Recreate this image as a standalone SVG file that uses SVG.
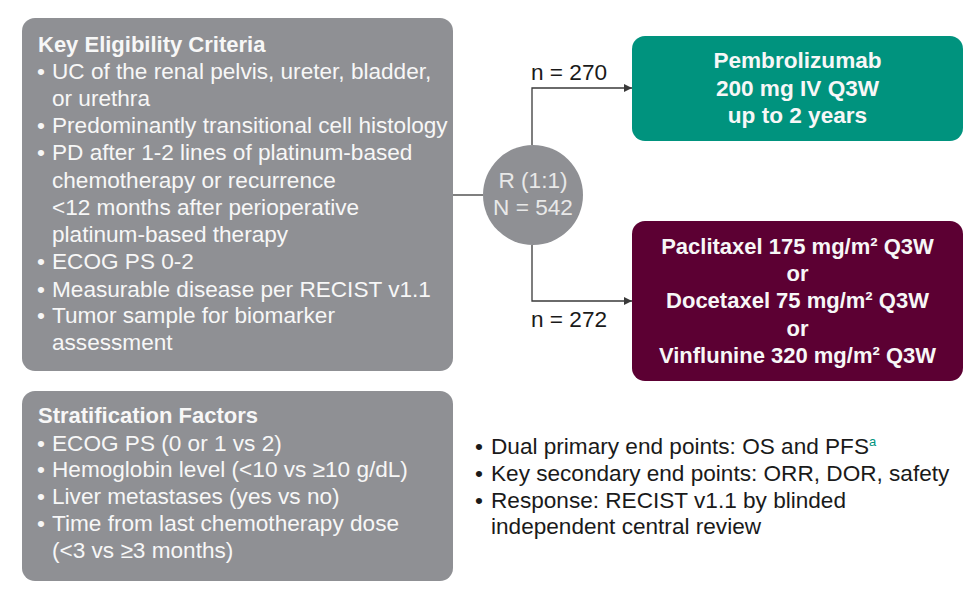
<svg xmlns="http://www.w3.org/2000/svg" width="974" height="597" viewBox="0 0 974 597">
<style>
.t{font-family:"Liberation Sans",Arial,sans-serif;font-size:22.6px}
.w{fill:#f7f7f7}
.b{font-weight:bold;font-size:22px}
.k{fill:#1a1a1a}
.c{text-anchor:middle}
.box{fill:#8f9094}
.ln{fill:none;stroke:#3a3a3a;stroke-width:1.3}
</style>
<defs>
<marker id="ah" viewBox="0 0 10 10" refX="10" refY="5" markerWidth="9" markerHeight="8" markerUnits="userSpaceOnUse" orient="auto">
<path d="M0,0 L10,5 L0,10 z" fill="#3a3a3a"/>
</marker>
</defs>
<rect width="974" height="597" fill="#ffffff"/>
<g id="connectors">
<path class="ln" d="M453,195 H483"/>
<path class="ln" d="M532,145 V88 H632" marker-end="url(#ah)"/>
<path class="ln" d="M532,245 V301 H632" marker-end="url(#ah)"/>
</g>
<g id="eligibility">
<rect class="box" x="22" y="18" width="431" height="353" rx="13"/>
<text class="t w b" x="38" y="52">Key Eligibility Criteria</text>
<text class="t w" x="37" y="79">•</text><text class="t w" x="52" y="79">UC of the renal pelvis, ureter, bladder,</text>
<text class="t w" x="52" y="106">or urethra</text>
<text class="t w" x="37" y="133">•</text><text class="t w" x="52" y="133">Predominantly transitional cell histology</text>
<text class="t w" x="37" y="160">•</text><text class="t w" x="52" y="160">PD after 1-2 lines of platinum-based</text>
<text class="t w" x="52" y="188">chemotherapy or recurrence</text>
<text class="t w" x="52" y="215">&lt;12 months after perioperative</text>
<text class="t w" x="52" y="242">platinum-based therapy</text>
<text class="t w" x="37" y="269">•</text><text class="t w" x="52" y="269">ECOG PS 0-2</text>
<text class="t w" x="37" y="297">•</text><text class="t w" x="52" y="297">Measurable disease per RECIST v1.1</text>
<text class="t w" x="37" y="323">•</text><text class="t w" x="52" y="323">Tumor sample for biomarker</text>
<text class="t w" x="52" y="350">assessment</text>
</g>
<g id="stratification">
<rect class="box" x="22" y="391" width="431" height="190" rx="13"/>
<text class="t w b" x="38" y="423">Stratification Factors</text>
<text class="t w" x="37" y="451">•</text><text class="t w" x="52" y="451">ECOG PS (0 or 1 vs 2)</text>
<text class="t w" x="37" y="477">•</text><text class="t w" x="52" y="477">Hemoglobin level (&lt;10 vs ≥10 g/dL)</text>
<text class="t w" x="37" y="504">•</text><text class="t w" x="52" y="504">Liver metastases (yes vs no)</text>
<text class="t w" x="37" y="531">•</text><text class="t w" x="52" y="531">Time from last chemotherapy dose</text>
<text class="t w" x="52" y="558">(&lt;3 vs ≥3 months)</text>
</g>
<g id="randomization">
<circle cx="533" cy="195" r="50" fill="#8f9094"/>
<text class="t c" x="533" y="188" fill="#e8e8e8">R (1:1)</text>
<text class="t c" x="533" y="215" fill="#e8e8e8">N = 542</text>
</g>
<g id="label-270"><text class="t k" x="531" y="80">n = 270</text></g>
<g id="label-272"><text class="t k" x="531" y="327">n = 272</text></g>
<g id="pembrolizumab">
<rect x="632" y="36" width="331" height="105" rx="13" fill="#00937e"/>
<text class="t w b c" x="797.5" y="68" style="font-size:22.6px">Pembrolizumab</text>
<text class="t w b c" x="797.5" y="96" style="font-size:22.6px">200 mg IV Q3W</text>
<text class="t w b c" x="797.5" y="123" style="font-size:22.6px">up to 2 years</text>
</g>
<g id="chemotherapy">
<rect x="632" y="221" width="331" height="160" rx="13" fill="#5c0033"/>
<text class="t w b c" x="797.5" y="254">Paclitaxel 175 mg/m² Q3W</text>
<text class="t w b c" x="797.5" y="281">or</text>
<text class="t w b c" x="797.5" y="308">Docetaxel 75 mg/m² Q3W</text>
<text class="t w b c" x="797.5" y="336">or</text>
<text class="t w b c" x="797.5" y="363">Vinflunine 320 mg/m² Q3W</text>
</g>
<g id="endpoints">
<text class="t k" x="475" y="454">•</text><text class="t k" x="491" y="454">Dual primary end points: OS and PFS<tspan fill="#00937e" font-size="13" dy="-8">a</tspan></text>
<text class="t k" x="475" y="481">•</text><text class="t k" x="491" y="481">Key secondary end points: ORR, DOR, safety</text>
<text class="t k" x="475" y="508">•</text><text class="t k" x="491" y="508">Response: RECIST v1.1 by blinded</text>
<text class="t k" x="491" y="534">independent central review</text>
</g>
</svg>
